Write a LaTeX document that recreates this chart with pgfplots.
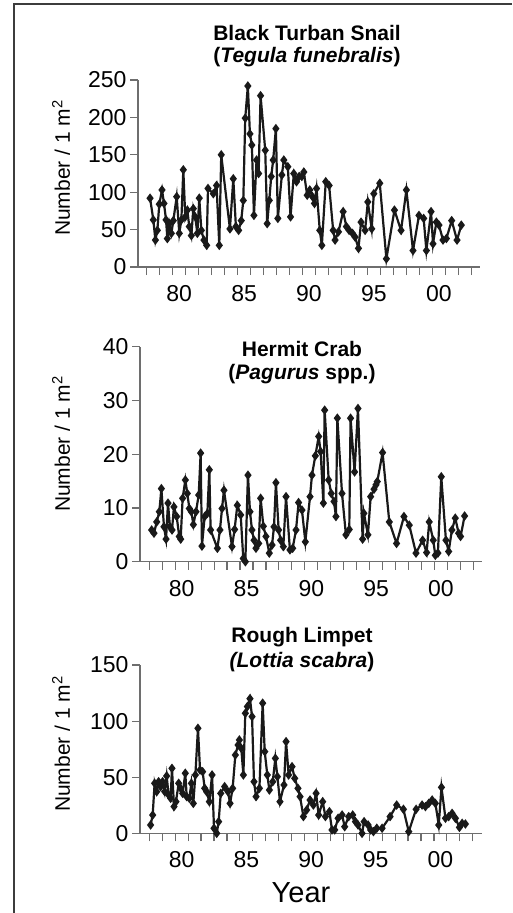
\documentclass[border=0pt]{standalone}
\usepackage{fontspec}
\setmainfont{Liberation Sans}
\usepackage{pgfplots}
\pgfplotsset{compat=1.18}

\definecolor{axgray}{RGB}{110,110,110}
\definecolor{ink}{RGB}{25,25,25}
\definecolor{frame}{RGB}{60,60,60}

\pgfplotsset{
  panel/.style={
    scale only axis, clip=false,
    anchor=south west,
    axis x line*=bottom, axis y line*=left,
    axis line style={axgray, line width=1.2pt, -},
    tick style={axgray, line width=1.2pt},
    major tick length=8pt,
    tick align=outside,
    xtick={1978,...,2003}, xticklabels={},
    extra x ticks={1980.5,1985.5,1990.5,1995.5,2000.5},
    extra x tick labels={80,85,90,95,00},
    extra x tick style={major tick length=0pt,
      tick label style={yshift=-15pt}},
    ymin=0,
    tick label style={font=\fontsize{23}{23}\selectfont},
    /pgf/number format/assume math mode=true,
  },
  series/.style={ink, line width=2.2pt, mark=diamond*,
      mark size=3pt, mark options={solid, fill=ink, draw=ink}},
}

\begin{document}
\begin{tikzpicture}
\useasboundingbox (0pt,0pt) rectangle (512pt,-913pt);
\draw[frame, line width=2pt] (14pt,-913pt) -- (14pt,-4pt) -- (512pt,-4pt);

% Black Turban Snail
\begin{axis}[panel, at={(138pt,-267pt)}, width=342pt, height=187pt,
  xmin=1977.33, xmax=2003.67, ymax=250, ytick={0,50,...,250}]
\addplot[series] coordinates {
(1978.26,92) (1978.51,63) (1978.67,36) (1978.82,49) (1978.97,84) (1979.18,103)
(1979.33,85) (1979.49,63) (1979.59,38) (1979.74,58) (1979.90,45) (1980.05,62)
(1980.31,94) (1980.51,45) (1980.67,63) (1980.82,130) (1980.97,67) (1981.13,76)
(1981.28,54) (1981.44,42) (1981.59,78) (1981.74,67) (1981.90,45) (1982.05,92)
(1982.21,49) (1982.41,36) (1982.62,29) (1982.72,105) (1983.13,98) (1983.38,109)
(1983.59,29) (1983.74,150) (1984.41,51) (1984.67,118) (1984.87,54) (1985.08,49)
(1985.28,62) (1985.44,89) (1985.59,199) (1985.79,242) (1985.95,178) (1986.10,163)
(1986.26,69) (1986.46,143) (1986.62,125) (1986.77,229) (1987.13,156) (1987.28,58)
(1987.44,89) (1987.59,121) (1987.74,143) (1987.95,185) (1988.10,65) (1988.41,123)
(1988.56,143) (1988.87,134) (1989.08,67) (1989.33,125) (1989.54,114) (1989.74,121)
(1989.95,121) (1990.10,127) (1990.36,96) (1990.56,103) (1990.77,94) (1990.92,85)
(1991.08,105) (1991.33,49) (1991.49,29) (1991.79,114) (1992.05,109) (1992.36,49)
(1992.51,36) (1992.77,47) (1993.13,74) (1993.38,54) (1993.59,49) (1993.85,45)
(1994.05,40) (1994.31,25) (1994.51,60) (1994.82,49) (1995.03,87) (1995.33,51)
(1995.49,98) (1995.95,112) (1996.46,11) (1997.08,76) (1997.59,49) (1998.00,103)
(1998.51,22) (1998.97,69) (1999.33,65) (1999.54,22) (1999.90,74) (2000.05,31)
(2000.31,60) (2000.51,56) (2000.82,36) (2001.08,38) (2001.49,62) (2001.90,36)
(2002.23,56)
};
\end{axis}

% Hermit Crab
\begin{axis}[panel, at={(140pt,-561.7pt)}, width=341.7pt, height=215pt,
  xmin=1977.28, xmax=2003.65, ymax=40, ytick={0,10,...,40}]
\addplot[series] coordinates {
(1978.18,5.9) (1978.36,5.3) (1978.57,7.4) (1978.77,9.3) (1978.93,13.6) (1979.13,6.5)
(1979.29,4.2) (1979.44,10.9) (1979.59,6.5) (1979.75,5.9) (1979.90,10.2) (1980.11,8.4)
(1980.31,4.7) (1980.42,4.2) (1980.57,11.8) (1980.78,15.2) (1980.93,12.7) (1981.09,9.9)
(1981.24,9.3) (1981.40,6.9) (1981.60,9.3) (1981.81,12.4) (1981.96,20.2) (1982.06,2.9)
(1982.27,8.4) (1982.48,9.0) (1982.63,17.1) (1982.73,5.9) (1983.25,2.5) (1983.45,5.9)
(1983.61,9.9) (1983.76,13.3) (1984.38,2.8) (1984.58,6.0) (1984.79,10.5) (1985.05,8.7)
(1985.25,0.6) (1985.41,0) (1985.61,16.1) (1985.77,9.3) (1985.92,5.9) (1986.08,4.0)
(1986.23,2.5) (1986.44,3.4) (1986.59,11.8) (1986.80,6.6) (1987.00,4.7) (1987.26,1.6)
(1987.47,3.1) (1987.62,6.5) (1987.77,14.7) (1987.98,5.9) (1988.13,4.0) (1988.34,2.8)
(1988.55,12.1) (1988.85,2.2) (1989.06,2.5) (1989.32,5.9) (1989.52,11.0) (1989.78,9.6)
(1990.04,3.7) (1990.40,12.1) (1990.55,16.1) (1990.81,19.7) (1991.07,23.3) (1991.22,20.5)
(1991.43,10.9) (1991.53,28.2) (1991.84,15.2) (1992.04,12.7) (1992.25,11.2) (1992.40,8.4)
(1992.51,26.7) (1992.87,12.7) (1993.17,5.0) (1993.43,6.0) (1993.53,26.7) (1993.84,16.7)
(1994.10,28.5) (1994.46,4.2) (1994.56,9.0) (1994.87,5.0) (1995.08,12.1) (1995.34,13.5)
(1995.49,14.3) (1995.59,14.9) (1996.00,20.3) (1996.52,7.4) (1997.08,3.4) (1997.65,8.4)
(1998.06,6.8) (1998.58,1.6) (1999.09,4.0) (1999.40,1.7) (1999.60,7.4) (1999.91,4.0)
(2000.07,1.2) (2000.27,1.6) (2000.53,15.8) (2000.89,4.0) (2001.10,1.9) (2001.35,5.9)
(2001.61,8.1) (2001.87,5.3) (2002.02,4.7) (2002.33,8.5)
};
\end{axis}

% Rough Limpet
\begin{axis}[panel, at={(140pt,-833.3pt)}, width=341.7pt, height=168.3pt,
  xmin=1977.28, xmax=2003.69, ymax=150, ytick={0,50,...,150}]
\addplot[series] coordinates {
(1978.10,7.4) (1978.26,16.3) (1978.41,44.6) (1978.57,37.1) (1978.72,46) (1978.88,41.6)
(1979.03,46) (1979.19,37.1) (1979.34,51.1) (1979.49,34.2) (1979.65,31.2) (1979.75,57.9)
(1979.91,23.8) (1980.06,28.2) (1980.27,44.6) (1980.42,40.1) (1980.58,35.6) (1980.78,53.5)
(1980.89,32.7) (1981.09,31.2) (1981.25,44.6) (1981.40,26.7) (1981.56,52) (1981.76,93.6)
(1981.92,56.4) (1982.12,54.9) (1982.28,40.1) (1982.43,37.1) (1982.64,28.2) (1982.85,52)
(1983.00,4.5) (1983.21,0) (1983.36,10.4) (1983.52,35.6) (1983.82,41.6) (1984.08,37.1)
(1984.24,26.7) (1984.44,40.1) (1984.65,69.8) (1984.86,78.7) (1984.96,83.2) (1985.11,75.7)
(1985.27,52) (1985.42,107) (1985.58,113) (1985.78,120) (1985.94,104) (1986.09,46)
(1986.25,32.7) (1986.51,40.1) (1986.76,116) (1986.92,72.8) (1987.12,52) (1987.28,38.6)
(1987.54,46) (1987.74,66.8) (1987.90,50.5) (1988.10,28.2) (1988.41,43.1) (1988.57,81.7)
(1988.77,52) (1989.03,59.4) (1989.24,49) (1989.49,40.1) (1989.65,32.7) (1989.91,14.9)
(1990.16,20.8) (1990.42,29.7) (1990.68,25.2) (1990.89,35.6) (1991.09,16.3) (1991.40,28.2)
(1991.61,14.9) (1991.92,19.3) (1992.12,3) (1992.33,3) (1992.59,13.4) (1992.90,16.3)
(1993.10,5.9) (1993.41,14.9) (1993.72,16.3) (1993.93,10.4) (1994.13,7.4) (1994.44,0)
(1994.60,10.4) (1994.91,7.4) (1995.11,3) (1995.32,1.5) (1995.58,4.5) (1995.99,4.5)
(1996.61,14.9) (1997.12,25.2) (1997.64,21.4) (1998.05,1.5) (1998.62,21.4) (1999.08,25.2)
(1999.34,23.8) (1999.60,26.7) (1999.86,29.7) (2000.11,26.7) (2000.37,7.4) (2000.58,41)
(2000.89,13.4) (2001.14,14.9) (2001.40,17.8) (2001.66,13.4) (2001.97,5.3) (2002.18,8.9)
(2002.43,8.3)
};
\end{axis}

% titles and labels
\begin{scope}[every node/.style={font=\fontsize{21}{21}\selectfont\bfseries, inner sep=0pt}]
\node at (307pt,-33pt) {Black Turban Snail};
\node at (307pt,-57pt) {(\textit{Tegula funebralis})};
\node at (302pt,-349pt) {Hermit Crab};
\node at (302pt,-374pt) {(\textit{Pagurus} spp.)};
\node at (302pt,-637pt) {Rough Limpet};
\node at (302pt,-662pt) {\textit{(Lottia scabra})};
\end{scope}
\begin{scope}[every node/.style={font=\fontsize{21}{21}\selectfont, rotate=90, inner sep=0pt}]
\node at (61pt,-168pt) {Number / 1 m\textsuperscript{2}};
\node at (61pt,-444pt) {Number / 1 m\textsuperscript{2}};
\node at (61pt,-744pt) {Number / 1 m\textsuperscript{2}};
\end{scope}
\node[font=\fontsize{29}{29}\selectfont, inner sep=0pt] at (301pt,-893pt) {Year};
\end{tikzpicture}
\end{document}
